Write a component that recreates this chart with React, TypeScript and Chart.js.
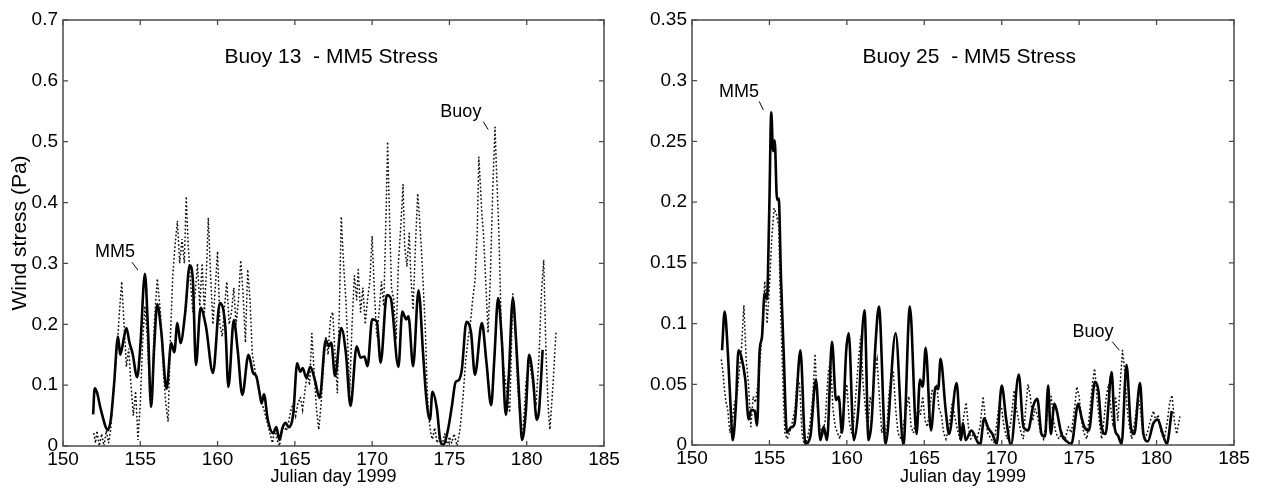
import React, { useEffect, useRef } from 'react';
import { Chart, registerables } from 'chart.js';

Chart.register(...registerables);

// ---------- tick values ----------
const xTickValues = [150, 155, 160, 165, 170, 175, 180, 185];
const yTickValues13 = [0, 0.1, 0.2, 0.3, 0.4, 0.5, 0.6, 0.7];
const yTickValues25 = [0, 0.05, 0.1, 0.15, 0.2, 0.25, 0.3, 0.35];

// ---------- Buoy 13 panel: MM5 (solid) ----------
const mm5Days13 = [
  151.95, 152.05, 152.2, 152.4, 152.6, 152.75, 152.9, 153.1, 153.3, 153.56, 153.7, 153.85,
  154.1, 154.3, 154.5, 154.8, 155.0, 155.3, 155.5, 155.7, 155.9, 156.1, 156.35, 156.7,
  157.0, 157.2, 157.4, 157.6, 157.9, 158.2, 158.4, 158.6, 158.9, 159.25, 159.7, 160.15,
  160.5, 160.7, 161.05, 161.3, 161.6, 162.0, 162.3, 162.5, 162.7, 162.85, 163.0, 163.25,
  163.6, 163.8, 164.0, 164.2, 164.4, 164.6, 164.9, 165.15, 165.35, 165.5, 165.75, 166.0,
  166.3, 166.6, 167.0, 167.2, 167.35, 167.6, 168.0, 168.3, 168.6, 169.0, 169.25, 169.5,
  169.7, 170.0, 170.3, 170.55, 170.95, 171.2, 171.7, 171.95, 172.2, 172.35, 172.65, 173.0,
  173.3, 173.5, 173.74, 173.9, 174.2, 174.4, 174.6, 174.9, 175.15, 175.4, 175.6, 175.8,
  176.1, 176.4, 176.65, 177.1, 177.4, 177.7, 177.9, 178.15, 178.4, 178.65, 178.85, 179.1,
  179.3, 179.56, 179.7, 179.95, 180.15, 180.4, 180.65, 180.8, 181.03,
];
const mm5Stress13 = [
  0.052, 0.095, 0.088, 0.065, 0.045, 0.032, 0.026, 0.045, 0.1, 0.18, 0.15, 0.165,
  0.194, 0.17, 0.152, 0.113, 0.163, 0.283, 0.19, 0.064, 0.163, 0.233, 0.19, 0.094,
  0.169, 0.154, 0.202, 0.169, 0.218, 0.297, 0.273, 0.133, 0.227, 0.196, 0.12, 0.235,
  0.196, 0.097, 0.207, 0.158, 0.084, 0.15, 0.12, 0.115, 0.09, 0.07, 0.085, 0.043,
  0.021, 0.031, 0.01, 0.03, 0.038, 0.031, 0.054, 0.136, 0.122, 0.128, 0.112, 0.13,
  0.108, 0.079, 0.174, 0.164, 0.17, 0.115, 0.194, 0.153, 0.066, 0.164, 0.145, 0.147,
  0.131, 0.208, 0.205, 0.137, 0.248, 0.243, 0.13, 0.221, 0.208, 0.213, 0.131, 0.256,
  0.15, 0.08, 0.043, 0.089, 0.059, 0.01, 0.002, 0.026, 0.064, 0.105, 0.108, 0.125,
  0.204, 0.186, 0.117, 0.202, 0.136, 0.067, 0.141, 0.243, 0.169, 0.051, 0.12, 0.243,
  0.179, 0.059, 0.01, 0.059, 0.15, 0.113, 0.043, 0.059, 0.158,
];

// ---------- Buoy 13 panel: Buoy (dotted) ----------
const buoyDays13 = [
  152.0, 152.1, 152.2, 152.35, 152.5, 152.65, 152.8, 152.95, 153.1, 153.3, 153.5, 153.65,
  153.8, 153.95, 154.1, 154.25, 154.4, 154.55, 154.7, 154.85, 155.0, 155.15, 155.3, 155.45,
  155.6, 155.75, 155.9, 156.1, 156.3, 156.5, 156.65, 156.8, 156.95, 157.1, 157.25, 157.4,
  157.55, 157.7, 157.85, 157.97, 158.1, 158.25, 158.4, 158.55, 158.7, 158.85, 159.0, 159.15,
  159.3, 159.4, 159.55, 159.7, 159.85, 160.0, 160.15, 160.3, 160.45, 160.6, 160.75, 160.9,
  161.05, 161.2, 161.35, 161.5, 161.65, 161.8, 161.95, 162.1, 162.25, 162.45, 162.6, 162.8,
  163.0, 163.2, 163.4, 163.55, 163.7, 163.85, 164.0, 164.15, 164.3, 164.45, 164.6, 164.75,
  164.9, 165.05, 165.2, 165.35, 165.5, 165.65, 165.8, 165.95, 166.1, 166.25, 166.4, 166.55,
  166.7, 166.85, 167.0, 167.15, 167.3, 167.45, 167.6, 167.75, 167.9, 168.0, 168.15, 168.3,
  168.45, 168.55, 168.7, 168.85, 169.0, 169.1, 169.25, 169.4, 169.55, 169.7, 169.85, 170.0,
  170.15, 170.3, 170.45, 170.6, 170.75, 170.9, 171.0, 171.1, 171.25, 171.4, 171.55, 171.7,
  171.85, 172.0, 172.1, 172.25, 172.4, 172.5, 172.65, 172.8, 172.95, 173.1, 173.2, 173.35,
  173.45, 173.55, 173.65, 173.8, 173.9, 174.05, 174.2, 174.35, 174.5, 174.7, 174.85, 175.0,
  175.15, 175.3, 175.5, 175.7, 175.9, 176.05, 176.2, 176.35, 176.5, 176.65, 176.8, 176.9,
  177.0, 177.1, 177.2, 177.35, 177.5, 177.65, 177.8, 177.95, 178.05, 178.2, 178.35, 178.5,
  178.7, 178.9, 179.0, 179.1, 179.25, 179.4, 179.55, 179.7, 179.85, 179.95, 180.1, 180.2,
  180.4, 180.6, 180.8, 180.95, 181.1, 181.25, 181.4, 181.5, 181.7, 181.9,
];
const buoyStress13 = [
  0.02, 0.005, 0.025, 0.0, 0.02, 0.0, 0.025, 0.005, 0.03, 0.1, 0.16, 0.22,
  0.27, 0.2, 0.13, 0.16, 0.1, 0.05, 0.09, 0.01, 0.07, 0.17, 0.23, 0.18,
  0.09, 0.07, 0.2, 0.275, 0.22, 0.12, 0.07, 0.04, 0.18, 0.28, 0.33, 0.37,
  0.3, 0.34, 0.3, 0.41, 0.33, 0.27, 0.22, 0.25, 0.3, 0.23, 0.3, 0.22,
  0.3, 0.375, 0.28, 0.2, 0.26, 0.32, 0.2, 0.18, 0.23, 0.27, 0.2, 0.22,
  0.26, 0.2, 0.24, 0.305, 0.25, 0.17, 0.29, 0.24, 0.15, 0.12, 0.1, 0.075,
  0.06, 0.04, 0.02, 0.005, 0.03, 0.01, 0.0, 0.02, 0.035, 0.025, 0.04, 0.06,
  0.07, 0.05, 0.07, 0.08, 0.06, 0.09, 0.12, 0.1, 0.185, 0.12, 0.06, 0.027,
  0.07, 0.13, 0.18, 0.15, 0.21, 0.22, 0.15, 0.087, 0.25, 0.377, 0.3, 0.24,
  0.15, 0.087, 0.2, 0.28, 0.24, 0.29, 0.22, 0.26, 0.2, 0.24, 0.27, 0.345,
  0.25, 0.18, 0.22, 0.27, 0.23, 0.38, 0.5, 0.4, 0.26, 0.24, 0.175, 0.3,
  0.36, 0.43, 0.33, 0.295, 0.35, 0.28, 0.224, 0.33, 0.415, 0.36, 0.317, 0.24,
  0.186, 0.1, 0.05, 0.02, 0.011, 0.03, 0.005, 0.015, 0.0, 0.02, 0.0, 0.015,
  0.005, 0.02, 0.0, 0.03, 0.087, 0.14, 0.175, 0.2, 0.24, 0.27, 0.35, 0.475,
  0.43, 0.38, 0.35, 0.27, 0.186, 0.28, 0.42, 0.524, 0.45, 0.35, 0.2, 0.131,
  0.09, 0.055, 0.15, 0.25, 0.2, 0.104, 0.05, 0.011, 0.06, 0.104, 0.13, 0.137,
  0.1, 0.066, 0.15, 0.25, 0.306, 0.15, 0.06, 0.027, 0.1, 0.19,
];

// ---------- Buoy 25 panel: MM5 (solid) ----------
const mm5Days25 = [
  151.94, 152.11, 152.32, 152.5, 152.63, 152.84, 153.0, 153.18, 153.44, 153.66, 153.83, 154.05,
  154.2, 154.37, 154.52, 154.69, 154.84, 154.99, 155.12, 155.23, 155.34, 155.49, 155.6, 155.75,
  155.92, 156.13, 156.35, 156.5, 156.63, 157.0, 157.32, 157.64, 158.0, 158.29, 158.5, 158.72,
  159.04, 159.3, 159.47, 159.69, 159.96, 160.12, 160.45, 160.72, 161.14, 161.4, 161.6, 161.84,
  162.07, 162.5, 163.15, 163.65, 164.07, 164.5, 164.72, 164.9, 165.09, 165.43, 165.73, 165.9,
  166.05, 166.38, 166.6, 167.09, 167.37, 167.5, 167.67, 168.05, 168.38, 168.6, 168.87, 169.13,
  169.4, 169.67, 170.0, 170.3, 170.6, 171.1, 171.4, 171.7, 172.03, 172.3, 172.57, 172.8,
  173.0, 173.17, 173.4, 173.54, 173.86, 174.2, 174.5, 174.94, 175.15, 175.37, 175.63, 176.02,
  176.24, 176.45, 176.7, 177.1, 177.3, 177.5, 177.74, 178.06, 178.34, 178.56, 178.93, 179.15,
  179.43, 179.8, 180.08, 180.33, 180.66, 180.98,
];
const mm5Stress25 = [
  0.078, 0.11, 0.075, 0.03, 0.004, 0.034, 0.078, 0.073, 0.054, 0.021, 0.029, 0.028,
  0.016, 0.078, 0.089, 0.125, 0.12, 0.194, 0.274, 0.242, 0.251, 0.202, 0.203, 0.136,
  0.076, 0.01, 0.014, 0.015, 0.018, 0.078, 0.001, 0.007, 0.054, 0.004, 0.015, 0.004,
  0.085, 0.037, 0.04, 0.01, 0.078, 0.092, 0.004, 0.026, 0.111, 0.004, 0.02, 0.081,
  0.114, 0.001, 0.092, 0.0, 0.114, 0.009, 0.054, 0.048, 0.08, 0.012, 0.048, 0.046,
  0.071, 0.029, 0.009, 0.051, 0.004, 0.018, 0.004, 0.012, 0.004, 0.0, 0.022, 0.014,
  0.009, 0.001, 0.049, 0.02, 0.0, 0.058, 0.015, 0.012, 0.032, 0.038, 0.009, 0.007,
  0.049, 0.009, 0.034, 0.029, 0.009, 0.003, 0.001, 0.034, 0.023, 0.014, 0.012, 0.052,
  0.045, 0.015, 0.009, 0.06, 0.014, 0.008, 0.001, 0.066, 0.015, 0.009, 0.051, 0.009,
  0.003, 0.018, 0.021, 0.012, 0.001, 0.028,
];

// ---------- Buoy 25 panel: Buoy (dotted) ----------
const buoyDays25 = [
  151.9, 152.0, 152.1, 152.2, 152.3, 152.45, 152.6, 152.75, 152.9, 153.05, 153.2, 153.35,
  153.5, 153.65, 153.8, 153.95, 154.1, 154.25, 154.4, 154.55, 154.7, 154.85, 155.0, 155.15,
  155.3, 155.45, 155.6, 155.7, 155.8, 155.9, 156.0, 156.15, 156.3, 156.5, 156.65, 156.8,
  156.95, 157.1, 157.25, 157.45, 157.6, 157.8, 157.95, 158.1, 158.25, 158.45, 158.6, 158.8,
  158.95, 159.1, 159.25, 159.4, 159.55, 159.7, 159.85, 160.0, 160.15, 160.3, 160.45, 160.6,
  160.75, 160.9, 161.05, 161.2, 161.35, 161.5, 161.65, 161.8, 161.95, 162.1, 162.25, 162.4,
  162.55, 162.7, 162.85, 163.0, 163.15, 163.3, 163.5, 163.7, 163.85, 164.0, 164.15, 164.3,
  164.45, 164.6, 164.75, 164.9, 165.05, 165.2, 165.35, 165.5, 165.65, 165.8, 165.95, 166.1,
  166.25, 166.4, 166.6, 166.8, 166.95, 167.1, 167.3, 167.5, 167.7, 167.85, 168.0, 168.2,
  168.4, 168.6, 168.8, 168.95, 169.1, 169.3, 169.5, 169.7, 169.85, 170.0, 170.15, 170.35,
  170.6, 170.8, 170.95, 171.1, 171.25, 171.4, 171.55, 171.7, 171.85, 172.0, 172.15, 172.3,
  172.5, 172.7, 172.9, 173.05, 173.2, 173.35, 173.5, 173.7, 173.9, 174.1, 174.3, 174.5,
  174.7, 174.85, 175.0, 175.15, 175.3, 175.5, 175.7, 175.85, 176.0, 176.15, 176.3, 176.45,
  176.6, 176.75, 176.9, 177.05, 177.2, 177.35, 177.5, 177.65, 177.8, 177.95, 178.1, 178.25,
  178.4, 178.6, 178.8, 178.95, 179.1, 179.25, 179.4, 179.6, 179.8, 179.95, 180.1, 180.3,
  180.5, 180.7, 180.85, 181.0, 181.15, 181.3, 181.5,
];
const buoyStress25 = [
  0.07, 0.06, 0.045, 0.035, 0.03, 0.01, 0.02, 0.035, 0.04, 0.06, 0.08, 0.115,
  0.07, 0.05, 0.015, 0.04, 0.035, 0.05, 0.07, 0.1, 0.135, 0.1, 0.13, 0.17,
  0.195, 0.19, 0.18, 0.12, 0.08, 0.04, 0.01, 0.005, 0.01, 0.02, 0.03, 0.055,
  0.05, 0.01, 0.0, 0.005, 0.015, 0.04, 0.075, 0.03, 0.015, 0.01, 0.02, 0.06,
  0.07, 0.03, 0.015, 0.01, 0.005, 0.02, 0.035, 0.05, 0.02, 0.01, 0.02, 0.045,
  0.07, 0.09, 0.05, 0.03, 0.01, 0.04, 0.03, 0.06, 0.07, 0.04, 0.01, 0.02,
  0.005, 0.04, 0.055, 0.06, 0.03, 0.01, 0.005, 0.02, 0.03, 0.04, 0.015, 0.01,
  0.02, 0.03, 0.025, 0.04, 0.02, 0.015, 0.03, 0.045, 0.04, 0.05, 0.03, 0.025,
  0.01, 0.005, 0.015, 0.035, 0.025, 0.015, 0.005, 0.02, 0.035, 0.015, 0.005, 0.01,
  0.005, 0.015, 0.04, 0.02, 0.01, 0.005, 0.002, 0.02, 0.035, 0.03, 0.015, 0.005,
  0.02, 0.045, 0.03, 0.02, 0.01, 0.005, 0.03, 0.05, 0.04, 0.02, 0.03, 0.025,
  0.01, 0.005, 0.02, 0.03, 0.04, 0.02, 0.01, 0.005, 0.01, 0.005, 0.015, 0.01,
  0.03, 0.048, 0.04, 0.02, 0.01, 0.005, 0.03, 0.05, 0.063, 0.04, 0.02, 0.005,
  0.02, 0.04, 0.05, 0.03, 0.015, 0.04, 0.02, 0.05, 0.078, 0.06, 0.03, 0.015,
  0.005, 0.02, 0.04, 0.03, 0.01, 0.005, 0.01, 0.02, 0.028, 0.02, 0.025, 0.01,
  0.005, 0.02, 0.035, 0.041, 0.02, 0.009, 0.023,
];

// ---------- text annotations (data units) ----------
const panelTitles = ['Buoy 13  - MM5 Stress', 'Buoy 25  - MM5 Stress'];
const titleAnchors = [
  { day: 167.35, value: 0.639 },
  { day: 167.9, value: 0.3196 },
];
const labels13 = [
  { text: 'MM5', day: 153.36, value: 0.318, from: [154.46, 0.302], to: [154.85, 0.289] },
  { text: 'Buoy', day: 175.74, value: 0.549, from: [177.19, 0.533], to: [177.51, 0.52] },
];
const labels25 = [
  { text: 'MM5', day: 153.03, value: 0.291, from: [154.34, 0.283], to: [154.6, 0.276] },
  { text: 'Buoy', day: 175.89, value: 0.093, from: [177.14, 0.085], to: [177.6, 0.078] },
];

const FONT = '"Liberation Sans", Arial, Helvetica, sans-serif';

function toPoints(days: number[], vals: number[]) {
  return days.map((d, i) => ({ x: d, y: vals[i] }));
}

function fmt(v: number) {
  return String(Number(v.toFixed(3)));
}

const framePlugin = {
  id: 'matlabFrame',
  afterDraw(chart: any, _args: any, opts: any) {
    const { ctx, chartArea: a, scales } = chart;
    const xs = scales.x;
    const ys = scales.y;
    ctx.save();
    ctx.strokeStyle = '#4a4a4a';
    ctx.lineWidth = 1.3;
    const tl = 5;
    ctx.beginPath();
    xs.ticks.forEach((t: any) => {
      const px = xs.getPixelForValue(t.value);
      ctx.moveTo(px, a.bottom);
      ctx.lineTo(px, a.bottom - tl);
      ctx.moveTo(px, a.top);
      ctx.lineTo(px, a.top + tl);
    });
    ys.ticks.forEach((t: any) => {
      const py = ys.getPixelForValue(t.value);
      ctx.moveTo(a.left, py);
      ctx.lineTo(a.left + tl, py);
      ctx.moveTo(a.right, py);
      ctx.lineTo(a.right - tl, py);
    });
    ctx.stroke();
    ctx.strokeStyle = '#555';
    ctx.lineWidth = 1.6;
    ctx.strokeRect(a.left, a.top, a.right - a.left, a.bottom - a.top);

    ctx.fillStyle = '#000';
    ctx.textAlign = 'center';
    ctx.textBaseline = 'middle';
    ctx.font = `21px ${FONT}`;
    ctx.fillText(opts.title, xs.getPixelForValue(opts.titleAnchor.day), ys.getPixelForValue(opts.titleAnchor.value));

    ctx.font = `18px ${FONT}`;
    ctx.strokeStyle = '#000';
    ctx.lineWidth = 1;
    opts.labels.forEach((l: any) => {
      ctx.fillText(l.text, xs.getPixelForValue(l.day), ys.getPixelForValue(l.value));
      ctx.beginPath();
      ctx.moveTo(xs.getPixelForValue(l.from[0]), ys.getPixelForValue(l.from[1]));
      ctx.lineTo(xs.getPixelForValue(l.to[0]), ys.getPixelForValue(l.to[1]));
      ctx.stroke();
    });
    ctx.restore();
  },
};

type PanelProps = {
  mm5: { x: number; y: number }[];
  buoy: { x: number; y: number }[];
  yTicks: number[];
  yMax: number;
  yAxisWidth: number;
  xAxisHeight: number;
  padRight: number;
  yTitle: string | null;
  title: string;
  titleAnchor: { day: number; value: number };
  labels: any[];
  width: number;
  left: number;
};

function Panel(p: PanelProps) {
  const ref = useRef<HTMLCanvasElement | null>(null);
  useEffect(() => {
    if (!ref.current) return;
    const chart = new Chart(ref.current, {
      type: 'line',
      data: {
        datasets: [
          {
            label: 'Buoy',
            data: p.buoy,
            borderColor: '#111',
            borderWidth: 1.7,
            borderDash: [0.3, 3.6],
            borderCapStyle: 'round',
            pointRadius: 0,
            tension: 0,
            fill: false,
          },
          {
            label: 'MM5',
            data: p.mm5,
            borderColor: '#000',
            borderWidth: 2.6,
            pointRadius: 0,
            cubicInterpolationMode: 'monotone',
            fill: false,
          },
        ],
      },
      options: {
        animation: false,
        responsive: false,
        devicePixelRatio: 1,
        layout: { padding: { top: 20, right: p.padRight, left: 0, bottom: 0 } },
        plugins: {
          legend: { display: false },
          tooltip: { enabled: false },
          matlabFrame: { title: p.title, titleAnchor: p.titleAnchor, labels: p.labels },
        } as any,
        scales: {
          x: {
            type: 'linear',
            min: 150,
            max: 185,
            grid: { display: false, drawTicks: false },
            border: { display: false },
            afterBuildTicks: (s: any) => {
              s.ticks = xTickValues.map((v) => ({ value: v }));
            },
            afterFit: (s: any) => {
              s.height = p.xAxisHeight;
            },
            ticks: {
              color: '#000',
              font: { family: FONT, size: 19 },
              padding: 2,
              maxRotation: 0,
              autoSkip: false,
              callback: (v: any) => fmt(Number(v)),
            },
            title: {
              display: true,
              text: 'Julian day 1999',
              color: '#000',
              font: { family: FONT, size: 18 },
              padding: { top: 0, bottom: 3 },
            },
          },
          y: {
            type: 'linear',
            min: 0,
            max: p.yMax,
            grid: { display: false, drawTicks: false },
            border: { display: false },
            afterBuildTicks: (s: any) => {
              s.ticks = p.yTicks.map((v) => ({ value: v }));
            },
            afterFit: (s: any) => {
              s.width = p.yAxisWidth;
            },
            ticks: {
              color: '#000',
              font: { family: FONT, size: 19 },
              padding: 5,
              autoSkip: false,
              callback: (v: any) => fmt(Number(v)),
            },
            title: {
              display: !!p.yTitle,
              text: p.yTitle || '',
              color: '#000',
              font: { family: FONT, size: 21 },
              padding: { top: 8, bottom: 0 },
            },
          },
        },
      } as any,
      plugins: [framePlugin],
    });
    return () => chart.destroy();
  }, []);
  return (
    <canvas
      ref={ref}
      width={p.width}
      height={491}
      style={{ position: 'absolute', left: p.left, top: 0, width: p.width, height: 491 }}
    />
  );
}

export default function App() {
  return (
    <div style={{ position: 'absolute', left: 0, top: 0, width: 1261, height: 491, background: '#fff', overflow: 'hidden' }}>
      <Panel
        mm5={toPoints(mm5Days13, mm5Stress13)}
        buoy={toPoints(buoyDays13, buoyStress13)}
        yTicks={yTickValues13}
        yMax={0.7}
        yAxisWidth={63}
        xAxisHeight={45}
        padRight={26}
        yTitle="Wind stress (Pa)"
        title={panelTitles[0]}
        titleAnchor={titleAnchors[0]}
        labels={labels13}
        width={630}
        left={0}
      />
      <Panel
        mm5={toPoints(mm5Days25, mm5Stress25)}
        buoy={toPoints(buoyDays25, buoyStress25)}
        yTicks={yTickValues25}
        yMax={0.35}
        yAxisWidth={62}
        xAxisHeight={46}
        padRight={27}
        yTitle={null}
        title={panelTitles[1]}
        titleAnchor={titleAnchors[1]}
        labels={labels25}
        width={631}
        left={630}
      />
    </div>
  );
}
